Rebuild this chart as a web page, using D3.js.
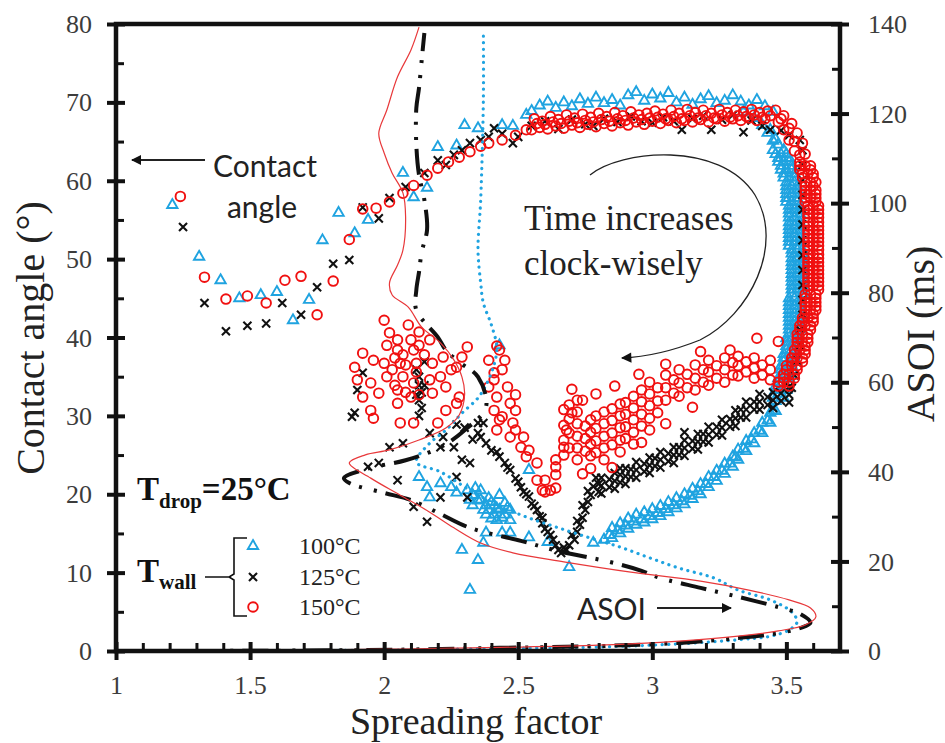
<!DOCTYPE html>
<html>
<head>
<meta charset="utf-8">
<script src="https://cdn.jsdelivr.net/npm/d3@7"></script>
<style>
body { margin: 0; background: #fff; }
svg text { font-family: "Liberation Serif", "Times New Roman", serif; }
.sans { font-family: Lato, "Liberation Sans", sans-serif; }
</style>
</head>
<body>
<div id="chart"></div>
<script>
// contact angle (deg) vs spreading factor, one list per wall temperature
var blue100 = [
  [1.21,56.9],[1.31,50.3],[1.39,47.3],[1.46,45.0],[1.54,45.4],[1.60,45.8],[1.66,42.2],[1.72,44.8],[1.77,52.4],[1.83,55.9],[1.89,53.3],[1.94,55.0],
  [2.07,61.0],[2.11,57.9],[2.16,59.1],[2.20,64.3],[2.27,64.5],[2.30,67.1],[2.35,66.7],[2.44,67.1],[2.48,67.0],[2.53,68.4],
  [2.55,68.9],[2.58,69.6],[2.61,70.1],[2.64,69.3],[2.67,70.0],[2.70,69.5],[2.73,70.4],[2.76,69.8],[2.79,70.6],[2.82,69.9],[2.85,70.3],[2.88,69.6],[2.91,70.9],[2.94,71.3],[2.97,70.2],[3.00,71.0],[3.03,70.5],[3.06,71.2],[3.09,70.0],[3.12,70.6],[3.15,69.7],[3.18,70.4],[3.21,70.8],[3.24,69.9],[3.27,70.2],[3.30,70.9],[3.33,70.1],[3.36,69.6],[3.39,70.3],[3.42,69.5],[3.45,68.8],
  [3.34,68.8],[3.38,68.0],[3.41,67.1],[3.43,66.1],[3.45,65.1],[3.44,66.5],[3.46,65.3],[3.47,64.6],
  [3.45,63.9],[3.49,63.9],[3.47,62.9],[3.51,62.9],[3.48,61.9],[3.52,61.9],[3.49,60.9],[3.53,60.9],[3.50,59.8],[3.53,59.8],[3.50,58.8],[3.54,58.8],[3.50,57.8],[3.54,57.8],[3.51,56.8],[3.55,56.8],[3.51,55.8],[3.55,55.8],[3.51,54.7],[3.55,54.7],[3.51,53.7],[3.55,53.7],[3.51,52.7],[3.55,52.7],[3.51,51.7],[3.55,51.7],[3.52,50.7],[3.56,50.7],[3.52,49.6],[3.56,49.6],[3.52,48.6],[3.56,48.6],[3.52,47.6],[3.56,47.6],[3.52,46.6],[3.56,46.6],[3.52,45.6],[3.56,45.6],[3.51,44.5],[3.55,44.5],[3.51,43.5],[3.55,43.5],[3.51,42.5],[3.55,42.5],[3.51,41.5],[3.55,41.5],[3.51,40.5],[3.54,40.5],[3.50,39.4],[3.54,39.4],[3.50,38.4],[3.53,38.4],[3.49,37.4],[3.53,37.4],[3.48,36.4],[3.52,36.4],[3.48,35.3],[3.51,35.3],[3.47,34.3],[3.51,34.3],[3.46,33.3],[3.50,33.3],[3.45,32.3],[3.49,32.3],
  [3.48,63.4],[3.49,62.4],[3.50,61.4],[3.51,60.4],[3.52,59.3],[3.52,58.3],[3.52,57.3],[3.53,56.3],[3.53,55.3],[3.53,54.2],[3.53,53.2],[3.53,52.2],[3.54,51.2],[3.54,50.1],[3.54,49.1],[3.54,48.1],[3.54,47.1],[3.54,46.1],[3.53,45.0],[3.53,44.0],[3.53,43.0],[3.53,42.0],[3.53,41.0],[3.52,39.9],[3.52,38.9],[3.51,37.9],[3.51,36.9],[3.50,35.9],[3.49,34.8],[3.48,33.8],[3.47,32.8],
  [3.46,63.4],[3.50,63.4],[3.47,62.4],[3.51,62.4],[3.48,61.4],[3.52,61.4],[3.49,60.4],[3.53,60.4],[3.50,59.3],[3.54,59.3],[3.50,58.3],[3.54,58.3],[3.50,57.3],[3.54,57.3],[3.51,56.3],[3.55,56.3],[3.51,55.3],[3.55,55.3],[3.51,54.2],[3.55,54.2],[3.51,53.2],[3.55,53.2],[3.51,52.2],[3.55,52.2],[3.52,51.2],[3.56,51.2],[3.52,50.1],[3.56,50.1],[3.52,49.1],[3.56,49.1],[3.52,48.1],[3.56,48.1],[3.52,47.1],[3.56,47.1],[3.52,46.1],[3.56,46.1],[3.51,45.0],[3.55,45.0],[3.51,44.0],[3.55,44.0],[3.51,43.0],[3.55,43.0],[3.51,42.0],[3.55,42.0],[3.51,41.0],[3.55,41.0],[3.50,39.9],[3.54,39.9],[3.50,38.9],[3.54,38.9],[3.49,37.9],[3.53,37.9],[3.49,36.9],[3.53,36.9],[3.48,35.9],[3.52,35.9],[3.47,34.8],[3.51,34.8],[3.46,33.8],[3.50,33.8],
  [3.46,31.9],[3.46,30.6],[3.44,30.4],[3.44,29.1],[3.41,29.1],[3.41,27.8],[3.38,27.8],[3.38,26.5],[3.35,26.8],[3.35,25.5],[3.32,25.7],[3.32,24.4],[3.30,24.8],[3.30,23.5],[3.27,23.9],[3.27,22.6],[3.24,23.0],[3.24,21.7],[3.21,22.2],[3.21,20.9],[3.18,21.3],[3.18,20.0],[3.15,20.7],[3.15,19.4],[3.12,20.0],[3.12,18.7],[3.09,19.5],[3.09,18.2],[3.06,19.0],[3.06,17.7],[3.03,18.5],[3.03,17.2],[3.00,18.1],[3.00,16.8],[2.97,17.7],[2.97,16.4],[2.94,17.4],[2.94,16.1],[2.91,16.9],[2.91,15.6],[2.88,16.3],[2.88,15.0],[2.85,15.7],[2.85,14.4],[2.82,14.2],
  [3.45,30.7],[3.43,29.4],[3.40,28.1],[3.37,27.0],[3.34,25.8],[3.31,24.7],[3.29,23.9],[3.26,23.0],[3.23,22.2],[3.20,21.3],[3.17,20.4],[3.14,19.8],[3.11,19.1],[3.08,18.6],[3.05,18.1],[3.02,17.6],[2.99,17.2],[2.96,16.8],[2.93,16.5],[2.90,16.0],[2.87,15.4],[2.84,14.8],
  [2.43,39.0],[2.54,23.1],[2.13,22.2],[2.16,20.9],[2.17,19.6],[2.21,21.4],[2.25,20.9],[2.27,20.2],[2.31,20.5],[2.32,19.3],
  [2.33,19.9],[2.36,19.3],[2.38,18.6],[2.39,19.5],[2.41,18.6],[2.43,18.0],[2.45,18.9],[2.39,18.0],[2.36,20.5],[2.41,17.4],[2.45,17.4],[2.38,17.4],[2.33,18.6],[2.43,19.9],[2.47,18.0],[2.47,16.7],[2.42,16.7],
  [2.35,19.2],[2.37,18.0],[2.40,19.0],[2.42,18.2],[2.44,17.0],[2.46,18.3],[2.40,16.9],[2.34,20.8],
  [2.38,15.1],[2.44,15.1],[2.47,15.1],[2.37,13.8],[2.29,12.9],[2.35,11.6],[2.32,7.8],[2.69,10.7],[2.78,13.8],[2.54,14.5],[2.61,13.9]
];

var black125 = [
  [1.25,54.1],[1.33,44.4],[1.41,40.8],[1.49,41.5],[1.56,41.8],[1.62,44.4],[1.69,42.9],[1.75,46.4],[1.81,49.4],[1.87,49.9],[1.92,56.6],
  [1.98,55.2],[2.02,57.8],[2.08,59.2],[2.15,61.0],[2.20,62.6],[2.23,62.0],[2.26,63.3],[2.29,63.9],[2.32,64.8],[2.36,65.2],[2.39,65.6],[2.41,66.7],[2.44,66.0],[2.48,64.8],[2.50,65.6],
  [2.55,67.0],[2.60,67.6],[2.65,66.6],[2.70,67.8],[2.75,67.2],[2.78,67.0],[2.82,67.9],[2.87,67.5],[2.92,68.2],[2.96,67.6],[3.00,67.4],[3.04,68.1],[3.08,67.6],[3.11,66.5],[3.15,67.9],[3.19,68.3],[3.22,66.5],[3.26,67.8],[3.30,68.4],[3.34,66.2],[3.37,67.7],[3.41,67.0],[3.44,66.5],[3.48,66.4],[3.51,65.8],
  [3.55,65.2],[3.56,63.9],[3.56,62.0],[3.56,60.1],[3.56,58.2],[3.56,56.3],[3.56,54.4],[3.56,52.4],[3.56,50.5],[3.56,48.6],[3.56,46.7],[3.56,44.8],[3.56,42.9],[3.55,41.0],[3.55,39.0],[3.54,37.1],[3.53,35.2],[3.52,33.6],
  [3.51,33.7],[3.51,32.7],[3.51,31.7],[3.45,33.0],[3.45,32.0],[3.45,31.0],[3.40,32.8],[3.40,31.8],[3.40,30.8],[3.35,31.8],[3.35,30.8],[3.35,29.8],
  [3.31,30.7],[3.31,29.7],[3.31,28.7],[3.26,29.5],[3.26,28.5],[3.26,27.5],[3.21,28.6],[3.21,27.6],[3.21,26.6],[3.17,27.7],[3.17,26.7],[3.17,25.7],
  [3.12,26.9],[3.12,25.9],[3.12,24.9],[3.08,26.0],[3.08,25.0],[3.08,24.0],[3.03,25.4],[3.03,24.4],[3.03,23.4],[2.99,24.7],[2.99,23.7],[2.99,22.7],
  [2.94,24.1],[2.94,23.1],[2.94,22.1],[2.90,23.3],[2.90,22.3],[2.90,21.3],[2.86,22.7],[2.86,21.7],[2.86,20.7],[2.81,22.1],[2.81,21.1],[2.81,20.1],
  [3.48,32.9],[3.48,31.9],[3.43,32.4],[3.43,31.4],[3.38,31.8],[3.38,30.8],[3.33,30.8],[3.33,29.8],[3.29,29.6],[3.29,28.6],[3.24,28.6],[3.24,27.6],
  [3.19,27.7],[3.19,26.7],[3.15,26.8],[3.15,25.8],[3.10,26.0],[3.10,25.0],[3.06,25.2],[3.06,24.2],[3.01,24.6],[3.01,23.6],[2.97,23.9],[2.97,22.9],
  [2.92,23.2],[2.92,22.2],[2.88,22.5],[2.88,21.5],[2.84,21.9],[2.84,20.9],[2.80,21.3],[2.80,20.3],
  [2.79,22.1],[2.77,19.9],[2.75,18.0],[2.73,16.1],[2.71,14.2],[2.68,12.9],[2.66,12.5],[2.64,13.5],[2.62,14.8],[2.59,16.3],[2.57,18.0],[2.54,19.7],[2.51,20.9],[2.47,23.1],[2.43,24.8],[2.38,26.5],[2.35,27.8],
  [2.78,21.0],[2.76,19.0],[2.74,17.0],[2.72,15.2],[2.69,13.5],[2.65,12.9],[2.63,14.2],[2.60,15.6],[2.58,17.2],[2.55,18.8],[2.52,20.3],[2.49,22.0],[2.45,24.0],[2.40,25.6],
  [2.76,20.4],[2.74,18.6],[2.72,16.6],[2.70,14.8],[2.67,13.2],[2.61,15.2],[2.59,17.0],[2.56,18.5],[2.53,20.0],[2.50,21.6],[2.46,23.4],[2.42,25.4],
  [2.37,29.1],[2.32,24.0],[2.27,22.2],[2.31,19.6],[2.21,19.6],[2.16,16.5],[2.11,18.4],[2.05,21.8],[1.98,24.0],[1.94,23.5],[2.02,26.0],[2.07,26.5],[2.17,27.8],[2.22,27.3],[2.26,26.0],[2.29,24.4],[2.21,26.0],[2.36,27.3],
  [1.88,29.9],[1.90,33.3],[1.92,35.5],[1.89,30.4],[2.13,35.0],[2.13,33.9],[2.14,33.0],[2.13,32.0],[2.14,31.0],[2.13,30.0],[2.15,33.9],[2.12,32.7],[2.12,35.9],[2.15,36.9],
  [2.35,29.1],[2.30,28.5],[2.33,27.0],[2.27,28.9],[3.12,27.9],[2.88,23.3]
];

var red150 = [
  [1.24,58.0],[1.33,47.7],[1.41,44.9],[1.49,45.3],[1.56,44.4],[1.63,47.3],[1.69,47.8],[1.75,42.9],[1.81,47.2],[1.87,52.5],[1.92,56.4],
  [1.97,56.5],[2.02,57.3],[2.07,58.4],[2.11,59.4],[2.16,60.7],[2.20,61.6],[2.24,62.4],[2.28,63.0],[2.32,63.7],[2.36,64.4],[2.39,64.8],[2.44,65.2],[2.49,65.8],[2.53,66.5],
  [2.56,67.9],[2.59,67.6],[2.62,68.2],[2.65,67.8],[2.68,68.4],[2.71,68.0],[2.74,68.5],[2.77,68.1],[2.80,68.6],[2.83,68.2],[2.86,68.7],[2.89,68.3],[2.92,68.8],[2.95,68.4],[2.98,68.6],[3.01,68.9],[3.04,68.5],[3.07,69.0],[3.10,68.6],[3.13,69.1],[3.16,68.7],[3.19,69.0],[3.22,68.6],[3.25,69.1],[3.28,68.7],[3.31,69.0],[3.34,68.8],[3.37,69.1],[3.40,68.7],[3.43,68.9],
  [2.55,66.5],[2.58,66.8],[2.61,66.6],[2.64,67.0],[2.67,66.7],[2.70,67.1],[2.73,66.8],[2.76,67.2],[2.79,66.9],[2.82,67.3],[2.85,67.0],[2.88,67.4],[2.91,67.1],[2.94,67.5],[2.97,67.2],[3.00,67.6],[3.03,67.3],[3.06,67.7],[3.09,67.4],[3.12,67.7],[3.15,67.5],[3.18,67.8],[3.21,67.5],[3.24,67.9],[3.27,67.6],[3.30,67.9],[3.33,67.7],[3.36,68.0],[3.39,67.7],[3.42,67.9],
  [2.57,67.3],[2.60,67.2],[2.63,67.5],[2.66,67.3],[2.69,67.6],[2.72,67.4],[2.75,67.7],[2.78,67.5],[2.81,67.8],[2.84,67.6],[2.87,67.9],[2.90,67.7],[2.93,68.0],[2.96,67.8],[2.99,68.0],[3.02,68.1],[3.05,67.9],[3.08,68.2],[3.11,67.9],[3.14,68.3],[3.17,68.0],[3.20,68.3],[3.23,68.0],[3.26,68.4],[3.29,68.1],[3.32,68.3],[3.35,68.2],[3.38,68.4],[3.41,68.1],
  [3.44,68.3],[3.46,69.0],[3.47,67.5],[3.49,68.3],[3.49,66.5],[3.52,67.3],[3.51,65.2],[3.54,66.1],[3.53,63.8],[3.56,64.8],[3.55,62.4],[3.57,63.4],[3.48,67.9],[3.51,66.7],[3.53,65.0],[3.55,63.3],
  [3.55,61.4],[3.59,61.4],[3.56,60.4],[3.60,60.4],[3.57,59.3],[3.60,59.3],[3.57,58.3],[3.61,58.3],[3.57,57.3],[3.61,57.3],[3.58,56.3],[3.62,56.3],[3.58,55.3],[3.62,55.3],[3.58,54.2],[3.62,54.2],[3.58,53.2],[3.62,53.2],[3.58,52.2],[3.62,52.2],[3.58,51.2],[3.62,51.2],[3.58,50.1],[3.62,50.1],[3.58,49.1],[3.62,49.1],[3.58,48.1],[3.62,48.1],[3.58,47.1],[3.62,47.1],[3.58,46.1],[3.62,46.1],[3.57,45.0],[3.61,45.0],[3.57,44.0],[3.61,44.0],[3.57,43.0],[3.60,43.0],[3.56,42.0],[3.60,42.0],[3.55,41.0],[3.59,41.0],[3.54,39.9],[3.58,39.9],[3.54,38.9],[3.57,38.9],[3.53,37.9],[3.57,37.9],[3.52,36.9],[3.56,36.9],[3.50,35.9],[3.54,35.9],[3.49,34.8],[3.53,34.8],[3.47,33.8],[3.51,33.8],
  [3.57,61.9],[3.58,60.9],[3.59,59.8],[3.59,58.8],[3.59,57.8],[3.60,56.8],[3.60,55.8],[3.60,54.7],[3.60,53.7],[3.60,52.7],[3.60,51.7],[3.60,50.6],[3.60,49.6],[3.60,48.6],[3.60,47.6],[3.60,46.6],[3.59,45.5],[3.59,44.5],[3.59,43.5],[3.58,42.5],[3.57,41.5],[3.56,40.4],[3.56,39.4],[3.55,38.4],[3.54,37.4],[3.52,36.4],[3.51,35.3],[3.49,34.3],
  [3.55,61.9],[3.59,61.9],[3.56,60.9],[3.60,60.9],[3.57,59.8],[3.61,59.8],[3.57,58.8],[3.61,58.8],[3.57,57.8],[3.61,57.8],[3.58,56.8],[3.62,56.8],[3.58,55.8],[3.62,55.8],[3.58,54.7],[3.62,54.7],[3.58,53.7],[3.62,53.7],[3.58,52.7],[3.62,52.7],[3.58,51.7],[3.62,51.7],[3.58,50.6],[3.62,50.6],[3.58,49.6],[3.62,49.6],[3.58,48.6],[3.62,48.6],[3.58,47.6],[3.62,47.6],[3.58,46.6],[3.62,46.6],[3.57,45.5],[3.61,45.5],[3.57,44.5],[3.61,44.5],[3.57,43.5],[3.61,43.5],[3.56,42.5],[3.60,42.5],[3.55,41.5],[3.59,41.5],[3.54,40.4],[3.58,40.4],[3.54,39.4],[3.58,39.4],[3.53,38.4],[3.57,38.4],[3.52,37.4],[3.56,37.4],[3.50,36.4],[3.54,36.4],[3.49,35.3],[3.53,35.3],[3.47,34.3],[3.51,34.3],
  [3.44,37.1],[3.44,35.9],[3.44,34.6],[3.38,37.4],[3.38,36.1],[3.38,34.8],[3.32,37.6],[3.32,36.4],[3.32,35.1],[3.27,37.4],[3.27,35.9],[3.27,34.3],
  [3.21,37.1],[3.21,35.6],[3.21,33.9],[3.16,36.5],[3.16,34.8],[3.16,33.3],[3.10,35.9],[3.10,34.2],[3.10,32.5],[3.05,35.2],[3.05,33.6],[3.05,32.0],
  [2.99,34.3],[2.99,32.8],[2.99,31.3],[2.99,29.7],[2.99,28.2],[2.93,32.5],[2.93,31.0],[2.93,29.5],[2.93,27.9],[2.93,26.4],
  [2.88,31.5],[2.88,30.0],[2.88,28.5],[2.88,26.9],[2.88,25.4],[2.82,30.5],[2.82,29.0],[2.82,27.4],[2.82,25.9],[2.82,24.4],
  [2.77,29.5],[2.77,27.9],[2.77,26.4],[2.77,24.9],[2.77,23.3],[2.72,32.0],[2.72,30.5],[2.72,29.0],[2.72,27.4],[2.72,25.9],[2.72,24.4],
  [2.67,30.8],[2.67,28.8],[2.67,26.9],[2.67,25.0],[2.64,24.4],[2.64,22.5],[2.64,20.8],[2.60,21.8],[2.60,20.3],
  [3.41,36.5],[3.41,35.2],[3.35,36.9],[3.35,35.6],[3.30,36.8],[3.30,35.2],[3.24,36.4],[3.24,34.8],[3.19,35.9],[3.19,34.3],[3.13,35.3],[3.13,33.6],[3.08,34.6],[3.08,32.9],
  [3.02,33.6],[3.02,31.9],[3.02,30.4],[2.96,33.3],[2.96,31.8],[2.96,30.2],[2.96,28.7],[2.90,31.7],[2.90,30.2],[2.90,28.6],[2.90,27.1],
  [2.85,30.9],[2.85,29.4],[2.85,27.8],[2.85,26.3],[2.79,30.0],[2.79,28.4],[2.79,26.8],[2.79,25.3],[2.75,28.7],[2.75,27.1],[2.75,25.5],[2.69,31.4],[2.69,29.6],[2.69,27.8],[2.69,25.9],
  [3.39,39.9],[3.29,38.4],[3.18,38.2],[3.05,36.6],[2.95,35.3],[2.86,33.8],[2.79,32.8],[3.15,31.1],[3.05,29.0],[2.96,26.6],[2.85,23.4],[2.74,22.6],[3.47,39.5],[2.70,33.4],
  [2.43,38.4],[2.39,37.1],[2.44,35.9],[2.41,34.6],[2.46,33.7],[2.42,32.4],[2.47,31.6],[2.41,30.7],[2.44,29.9],[2.48,29.1],[2.52,27.3],[2.54,25.6],[2.57,24.0],
  [2.42,28.2],[2.47,27.3],[2.51,26.0],[2.53,24.8],[2.57,21.8],[2.59,20.5],[2.62,20.5],[2.64,23.5],[2.67,26.0],[2.68,28.2],[2.70,30.4],[2.74,32.0],
  [2.45,37.1],[2.41,35.5],[2.49,32.7],[2.43,29.5],[2.49,30.7],[2.49,28.2],[2.39,33.7],[2.42,38.9],
  [2.02,40.6],[2.09,41.6],[2.13,40.7],[2.17,39.7],[2.05,38.4],[2.11,38.4],[1.92,38.0],[1.96,37.1],[1.89,36.2],[2.00,36.7],[2.06,36.7],[2.12,36.7],[2.18,36.7],[2.22,37.5],[2.27,36.2],[2.31,38.8],[2.29,37.5],
  [1.90,34.6],[1.95,34.2],[2.01,35.0],[2.07,35.0],[2.11,34.2],[2.17,34.6],[2.21,35.0],[2.25,35.9],[1.92,32.4],[1.98,32.9],[2.05,33.3],[2.10,32.4],[2.18,32.9],[2.23,33.7],[2.28,32.4],
  [1.95,30.7],[2.05,31.6],[1.96,29.7],[2.06,29.1],[2.11,29.1],[2.20,29.1],[2.23,30.7],[2.27,31.6],
  [2.04,37.4],[2.08,36.5],[2.12,35.6],[2.03,35.9],[2.07,37.8],[2.10,39.7],[2.13,39.0],[2.05,39.7],[2.15,37.8],[2.04,33.9],[2.08,33.0],[2.13,32.7],[2.01,39.0],[2.00,42.2]
];

// ASOI (ms) vs spreading factor, right axis
var line100 = [
  [1.24,0],[1.69,0.1],[2.06,0.2],[2.43,0.6],[2.80,0.9],[3.10,1.6],[3.32,2.5],[3.44,3.3],[3.51,4.7],[3.54,6.5],[3.52,8.7],[3.44,11.4],[3.32,13.6],[3.23,16.3],[3.10,18.5],[2.99,20.8],[2.88,23.2],[2.77,25.2],[2.65,27.5],[2.54,29.7],[2.43,32.4],[2.32,35.9],[2.21,40.0],[2.12,42.2],[2.17,46.4],[2.23,49.3],[2.29,53.1],[2.35,56.5],[2.38,59.4],[2.41,63.9],[2.42,67.9],[2.40,72.8],[2.37,77.7],[2.36,82.2],[2.35,89.5],[2.36,100.7],[2.37,123.0],[2.37,138.6]
];
var line125 = [
  [1.24,0],[1.69,0.1],[2.06,0.3],[2.43,0.7],[2.80,1.1],[3.10,1.8],[3.32,2.9],[3.47,4.0],[3.55,5.1],[3.59,6.3],[3.55,8.3],[3.47,9.8],[3.32,12.1],[3.18,14.1],[3.03,16.3],[2.96,17.9],[2.84,19.9],[2.65,22.3],[2.51,24.6],[2.32,27.5],[2.21,30.6],[2.10,33.7],[2.00,35.3],[1.87,37.5],[1.85,38.6],[1.95,40.9],[2.08,42.6],[2.21,45.5],[2.30,49.3],[2.38,54.5],[2.35,61.2],[2.28,64.5],[2.23,67.2],[2.20,70.1],[2.12,76.1],[2.12,80.6],[2.13,84.6],[2.14,89.1],[2.16,94.0],[2.15,100.7],[2.13,106.3],[2.12,113.0],[2.12,121.2],[2.13,125.7],[2.14,131.9],[2.15,138.0]
];
var line150 = [
  [1.24,0.1],[1.69,0.2],[2.06,0.45],[2.43,0.8],[2.80,1.3],[3.10,2.2],[3.32,3.3],[3.47,4.5],[3.57,5.8],[3.61,7.6],[3.59,9.6],[3.51,11.4],[3.36,13.6],[3.18,15.6],[2.92,17.6],[2.67,19.9],[2.48,21.9],[2.36,24.1],[2.26,27.5],[2.17,31.0],[2.06,34.8],[1.95,38.6],[1.87,42.0],[1.93,43.8],[2.02,44.9],[2.13,47.1],[2.23,49.8],[2.28,52.7],[2.30,57.2],[2.29,61.2],[2.26,65.0],[2.21,68.8],[2.14,72.3],[2.09,76.8],[2.03,79.5],[2.02,82.2],[2.05,86.2],[2.07,89.5],[2.08,96.9],[2.07,102.3],[2.03,106.7],[2.00,111.2],[1.98,115.6],[2.01,120.8],[2.05,128.2],[2.10,134.2],[2.13,139.3]
];

var xMajor = [1, 1.5, 2, 2.5, 3, 3.5];
var xMinor = [1.1,1.2,1.3,1.4,1.6,1.7,1.8,1.9,2.1,2.2,2.3,2.4,2.6,2.7,2.8,2.9,3.1,3.2,3.3,3.4,3.6];
var yMajor = [0, 10, 20, 30, 40, 50, 60, 70, 80];
var yMinor = [5, 15, 25, 35, 45, 55, 65, 75];
var rMajor = [0, 20, 40, 60, 80, 100, 120, 140];
var rMinor = [10, 30, 50, 70, 90, 110, 130];
var legendLabels = ["100\u00b0C", "125\u00b0C", "150\u00b0C"];

var BLUE = "#1fa3e0", RED = "#f01010", DARK = "#111";

var W = 945, H = 743;
var plotL = 116, plotR = 840, plotT = 24, plotB = 651;

var svg = d3.select("#chart").append("svg").attr("width", W).attr("height", H);

var x = d3.scaleLinear().domain([1, 3.7]).range([plotL, plotR]);
var yL = d3.scaleLinear().domain([0, 80]).range([plotB, plotT]);
var yR = d3.scaleLinear().domain([0, 140]).range([plotB, plotT]);

var defs = svg.append("defs");
defs.append("marker").attr("id", "head").attr("viewBox", "0 0 10 10")
  .attr("refX", 9).attr("refY", 5).attr("markerWidth", 5).attr("markerHeight", 5)
  .attr("orient", "auto")
  .append("path").attr("d", "M0,0L10,5L0,10z").attr("fill", DARK);
defs.append("marker").attr("id", "headThin").attr("viewBox", "0 0 10 10")
  .attr("refX", 9).attr("refY", 5).attr("markerWidth", 10).attr("markerHeight", 8)
  .attr("orient", "auto")
  .append("path").attr("d", "M0,0L10,5L0,10z").attr("fill", DARK);

// scatter: 100C, 125C, 150C
var tri = d3.symbol().type(d3.symbolTriangle).size(46);
svg.append("g").selectAll("path").data(blue100).join("path")
  .attr("transform", function(d) { return "translate(" + x(d[0]) + "," + yL(d[1]) + ")"; })
  .attr("d", tri).attr("fill", "none").attr("stroke", BLUE).attr("stroke-width", 1.9);

var cross = d3.symbol().type(d3.symbolTimes).size(44);
svg.append("g").selectAll("path").data(black125).join("path")
  .attr("transform", function(d) { return "translate(" + x(d[0]) + "," + yL(d[1]) + ")"; })
  .attr("d", cross).attr("fill", "none").attr("stroke", DARK).attr("stroke-width", 2.1);

svg.append("g").selectAll("circle").data(red150).join("circle")
  .attr("cx", function(d) { return x(d[0]); })
  .attr("cy", function(d) { return yL(d[1]); })
  .attr("r", 4.8).attr("fill", "none").attr("stroke", RED).attr("stroke-width", 1.9);

// ASOI curves
var line = d3.line()
  .x(function(d) { return x(d[0]); })
  .y(function(d) { return yR(d[1]); })
  .curve(d3.curveCatmullRom.alpha(0.5));

svg.append("path").datum(line100).attr("d", line).attr("fill", "none")
  .attr("stroke", BLUE).attr("stroke-width", 3.2).attr("stroke-linecap", "round")
  .attr("stroke-dasharray", "0.1,6.5");
svg.append("path").datum(line125).attr("d", line).attr("fill", "none")
  .attr("stroke", DARK).attr("stroke-width", 4)
  .attr("stroke-dasharray", "26,9,3,12,3,9");
svg.append("path").datum(line150).attr("d", line).attr("fill", "none")
  .attr("stroke", "#e8383a").attr("stroke-width", 1.2);

// axes
function styleAxis(g) {
  g.select(".domain").remove();
  g.selectAll(".tick line").attr("stroke", DARK);
  g.selectAll(".tick text").attr("fill", "#3c3c3c").style("font-size", "26px")
    .style("font-family", "'Liberation Serif', serif");
}

var gx = svg.append("g").attr("transform", "translate(0," + plotB + ")")
  .call(d3.axisBottom(x).tickValues(xMajor).tickFormat(function(d) { return String(d); }).tickSize(9))
  .call(styleAxis);
gx.selectAll(".tick line").attr("y1", -9).attr("y2", 9).attr("stroke-width", 4);
gx.selectAll(".tick text").attr("y", 43).attr("dy", 0);

svg.append("g").attr("transform", "translate(0," + plotB + ")")
  .call(d3.axisBottom(x).tickValues(xMinor).tickFormat("").tickSize(8))
  .call(styleAxis)
  .selectAll(".tick line").attr("y1", 0).attr("y2", -8).attr("stroke-width", 3);

var gl = svg.append("g").attr("transform", "translate(" + plotL + ",0)")
  .call(d3.axisLeft(yL).tickValues(yMajor).tickSize(9))
  .call(styleAxis);
gl.selectAll(".tick line").attr("x1", 9).attr("x2", -9).attr("stroke-width", 4);
gl.selectAll(".tick text").attr("x", -24).attr("dy", "0.33em");

svg.append("g").attr("transform", "translate(" + plotL + ",0)")
  .call(d3.axisLeft(yL).tickValues(yMinor).tickFormat("").tickSize(8))
  .call(styleAxis)
  .selectAll(".tick line").attr("x1", 0).attr("x2", 8).attr("stroke-width", 3);

var gr = svg.append("g").attr("transform", "translate(" + plotR + ",0)")
  .call(d3.axisRight(yR).tickValues(rMajor).tickSize(9))
  .call(styleAxis);
gr.selectAll(".tick line").attr("x1", -9).attr("x2", 9).attr("stroke-width", 4);
gr.selectAll(".tick text").attr("x", 28).attr("dy", "0.33em");

svg.append("g").attr("transform", "translate(" + plotR + ",0)")
  .call(d3.axisRight(yR).tickValues(rMinor).tickFormat("").tickSize(8))
  .call(styleAxis)
  .selectAll(".tick line").attr("x1", 0).attr("x2", -8).attr("stroke-width", 3);

// frame
svg.append("path")
  .attr("d", "M" + plotL + "," + plotT + "H" + plotR + "V" + plotB + "H" + plotL + "Z")
  .attr("fill", "none").attr("stroke", DARK).attr("stroke-width", 4.5);

// axis titles
svg.append("text").attr("transform", "translate(44,338) rotate(-90)")
  .attr("text-anchor", "middle").style("font-size", "40px").attr("fill", "#222")
  .text("Contact angle (\u00b0)");
svg.append("text").attr("transform", "translate(934,334) rotate(-90)")
  .attr("text-anchor", "middle").style("font-size", "40px").attr("fill", "#222")
  .text("ASOI (ms)");
svg.append("text").attr("x", 476).attr("y", 734)
  .attr("text-anchor", "middle").style("font-size", "38px").attr("fill", "#222")
  .text("Spreading factor");

// annotations
svg.append("line").attr("x1", 205).attr("y1", 160).attr("x2", 132).attr("y2", 160)
  .attr("stroke", "#222").attr("stroke-width", 2).attr("marker-end", "url(#head)");
svg.append("text").attr("class", "sans").attr("x", 265).attr("y", 177)
  .attr("text-anchor", "middle").style("font-size", "30px").attr("fill", "#222").text("Contact");
svg.append("text").attr("class", "sans").attr("x", 262).attr("y", 218)
  .attr("text-anchor", "middle").style("font-size", "30px").attr("fill", "#222").text("angle");

svg.append("text").attr("class", "sans").attr("x", 577).attr("y", 620)
  .style("font-size", "30px").attr("fill", "#222").text("ASOI");
svg.append("line").attr("x1", 657).attr("y1", 608).attr("x2", 731).attr("y2", 608)
  .attr("stroke", "#222").attr("stroke-width", 2).attr("marker-end", "url(#head)");

svg.append("text").attr("x", 524).attr("y", 230).style("font-size", "35px").attr("fill", "#222")
  .text("Time increases");
svg.append("text").attr("x", 524).attr("y", 275).style("font-size", "35px").attr("fill", "#222")
  .text("clock-wisely");
svg.append("path")
  .attr("d", "M590,175C620,150 720,140 755,195C785,245 750,315 700,340C670,352 645,357 622,358")
  .attr("fill", "none").attr("stroke", "#222").attr("stroke-width", 1.3)
  .attr("marker-end", "url(#headThin)");

// T_drop and T_wall legend
var td = svg.append("text").attr("x", 137).attr("y", 500)
  .style("font-size", "33px").style("font-weight", "bold").attr("fill", "#111");
td.append("tspan").text("T");
td.append("tspan").attr("dy", 8).style("font-size", "21px").text("drop");
td.append("tspan").attr("dy", -8).text("=25\u00b0C");

var tw = svg.append("text").attr("x", 137).attr("y", 582)
  .style("font-size", "33px").style("font-weight", "bold").attr("fill", "#111");
tw.append("tspan").text("T");
tw.append("tspan").attr("dy", 7).style("font-size", "21px").text("wall");

svg.append("path").attr("d", "M205,577H229M247,538H234V574L229,577L234,580V616H247")
  .attr("fill", "none").attr("stroke", "#111").attr("stroke-width", 1.6);

var legY = [546, 577, 607];
svg.append("path").attr("transform", "translate(253," + legY[0] + ")").attr("d", tri)
  .attr("fill", "none").attr("stroke", BLUE).attr("stroke-width", 1.9);
svg.append("path").attr("transform", "translate(253," + legY[1] + ")").attr("d", cross)
  .attr("fill", "none").attr("stroke", DARK).attr("stroke-width", 2.1);
svg.append("circle").attr("cx", 253).attr("cy", legY[2]).attr("r", 4.8)
  .attr("fill", "none").attr("stroke", RED).attr("stroke-width", 1.9);
svg.append("g").selectAll("text").data(legendLabels).join("text")
  .attr("x", 299).attr("y", function(d, i) { return legY[i] + 8; })
  .style("font-size", "24px").attr("fill", "#222")
  .text(function(d) { return d; });
</script>
</body>
</html>
